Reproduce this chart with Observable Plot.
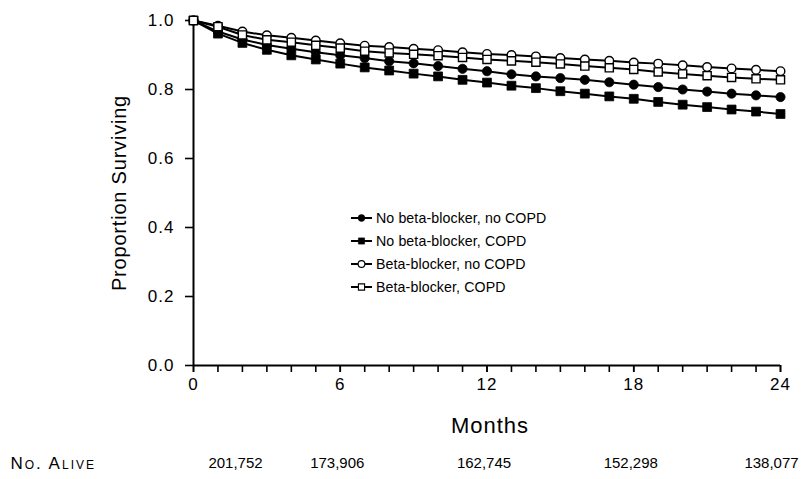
<!DOCTYPE html>
<html>
<head>
<meta charset="utf-8">
<script src="https://cdn.jsdelivr.net/npm/d3@7"></script>
<script src="https://cdn.jsdelivr.net/npm/@observablehq/plot@0.6"></script>
<style>
  html, body { margin: 0; padding: 0; background: white; }
  #wrap { position: relative; width: 809px; height: 479px; font-family: "Liberation Sans", Arial, Helvetica, sans-serif; }
  #legend { position: absolute; left: 351px; top: 206.5px; font-size: 14.2px; letter-spacing: 0.1px; color: black; }
  #legend .row { display: flex; align-items: center; height: 23px; white-space: nowrap; }
  #legend svg { display: block; margin-right: 3px; }
</style>
</head>
<body>
<div id="wrap"><div id="legend"></div></div>
<script>
// ---- data ----
const months = [0,1,2,3,4,5,6,7,8,9,10,11,12,13,14,15,16,17,18,19,20,21,22,23,24];
const seriesNames = ["No beta-blocker, no COPD", "No beta-blocker, COPD", "Beta-blocker, no COPD", "Beta-blocker, COPD"];
const noBBnoCOPD = [1.0,0.968,0.945,0.929,0.918,0.908,0.899,0.891,0.882,0.876,0.868,0.860,0.853,0.844,0.838,0.833,0.828,0.821,0.814,0.807,0.800,0.794,0.788,0.783,0.778];
const noBBCOPD   = [1.0,0.962,0.935,0.915,0.899,0.887,0.875,0.864,0.855,0.846,0.838,0.828,0.820,0.811,0.804,0.795,0.788,0.780,0.773,0.764,0.756,0.749,0.742,0.736,0.729];
const bbNoCOPD   = [1.0,0.985,0.968,0.957,0.950,0.942,0.934,0.927,0.923,0.918,0.914,0.908,0.903,0.900,0.896,0.891,0.887,0.883,0.878,0.875,0.870,0.865,0.861,0.857,0.853];
const bbCOPD     = [1.0,0.982,0.958,0.944,0.937,0.928,0.920,0.911,0.906,0.902,0.898,0.893,0.887,0.883,0.879,0.874,0.868,0.863,0.858,0.851,0.845,0.840,0.835,0.831,0.828];
const xLabelTicks = [0,6,12,18,24];
const yTicks = [0,0.2,0.4,0.6,0.8,1.0];
const aliveMonths = [0,6,12,18,24];
const aliveCounts = [201752,173906,162745,152298,138077];
const xTitle = "Months";
const yTitle = "Proportion Surviving";
const aliveTitle = "No. Alive";

// ---- styling per series ----
const seriesValues = [noBBnoCOPD, noBBCOPD, bbNoCOPD, bbCOPD];
const seriesSymbol = ["circle", "square", "circle", "square"];
const seriesFill = ["black", "black", "white", "white"];
const seriesR = [4.6, 5.0, 4.3, 4.6];

const rows = [];
seriesNames.forEach((name, i) => {
  months.forEach((m, j) => rows.push({series: name, idx: i, month: m, value: seriesValues[i][j]}));
});
const alive = aliveMonths.map((m, i) => ({month: m, count: aliveCounts[i]}));
const fmt = d3.format(",");

const drawOrder = [1, 0, 2, 3];
const dotMarks = drawOrder.map(i => Plot.dot(rows.filter(d => d.idx === i), {
  x: "month", y: "value", symbol: () => seriesSymbol[i], r: seriesR[i],
  fill: seriesFill[i], stroke: "black", strokeWidth: seriesFill[i] === "white" ? 1.4 : 0.8
}));

const aliveText = {x: "month", text: d => fmt(d.count), frameAnchor: "bottom", dy: 98, fontSize: 15, lineAnchor: "middle"};

const plot = Plot.plot({
  width: 809, height: 479,
  marginLeft: 193, marginRight: 29, marginTop: 20, marginBottom: 114,
  x: {domain: [0, 24]},
  y: {domain: [0, 1]},
  symbol: {type: "identity"},
  style: {fontFamily: "'Liberation Sans', Arial, Helvetica, sans-serif", fontSize: "17px", letterSpacing: "1px", color: "black", background: "white", overflow: "visible"},
  marks: [
    Plot.axisX(months, {tickSize: 7, tickFormat: () => "", strokeWidth: 1.6, label: null}),
    Plot.axisX(xLabelTicks, {tickSize: 7, tickPadding: 5, strokeWidth: 1.6, label: null, fontSize: 17}),
    Plot.axisY(yTicks, {tickSize: 8, tickPadding: 11, strokeWidth: 1.6, tickFormat: d3.format(".1f"), label: null, fontSize: 17}),
    Plot.ruleX([0], {strokeWidth: 2}),
    Plot.ruleY([0], {strokeWidth: 2}),
    Plot.line(rows, {x: "month", y: "value", z: "series", stroke: "black", strokeWidth: 2}),
    ...dotMarks,
    Plot.text([xTitle], {frameAnchor: "bottom", dy: 60, dx: 3, fontSize: 22, lineAnchor: "middle"}),
    Plot.text([yTitle], {frameAnchor: "left", dx: -74, rotate: -90, fontSize: 20, lineAnchor: "middle", textAnchor: "middle"}),
    Plot.text([aliveTitle], {frameAnchor: "bottom-left", dx: -183, dy: 98, textAnchor: "start", fontSize: 17, fontVariant: "small-caps", lineAnchor: "middle"}),
    Plot.text(alive.slice(0, 1), {...aliveText, dx: 42}),
    Plot.text(alive.slice(1, 4), {...aliveText, dx: -3}),
    Plot.text(alive.slice(4), {...aliveText, dx: -9})
  ]
});

const sel = d3.select(plot);
sel.selectAll("text").filter(function() { return this.textContent === xTitle; }).style("letter-spacing", "1px");
sel.selectAll("text").filter(function() { return this.textContent === yTitle; }).style("letter-spacing", "0.8px");
sel.selectAll("text").filter(function() { return this.textContent === aliveTitle; }).style("letter-spacing", "2px");
sel.selectAll("text").filter(function() { return /^\d{3},\d{3}$/.test(this.textContent); }).style("letter-spacing", "0px");

document.getElementById("wrap").prepend(plot);

// legend
const legend = document.getElementById("legend");
seriesNames.forEach((name, i) => {
  const row = document.createElement("div");
  row.className = "row";
  const s = d3.create("svg").attr("width", 22).attr("height", 12);
  s.append("line").attr("x1", 0).attr("x2", 21).attr("y1", 6).attr("y2", 6).attr("stroke", "black").attr("stroke-width", 2);
  const sym = seriesSymbol[i] === "circle" ? d3.symbolCircle : d3.symbolSquare;
  const size = seriesSymbol[i] === "circle" ? 36 : 38;
  s.append("path").attr("d", d3.symbol(sym, size)()).attr("transform", "translate(10.5,6)")
    .attr("fill", seriesFill[i]).attr("stroke", "black").attr("stroke-width", seriesFill[i] === "white" ? 1.1 : 0.6);
  row.appendChild(s.node());
  const t = document.createElement("span");
  t.textContent = name;
  row.appendChild(t);
  legend.appendChild(row);
});
</script>
</body>
</html>
